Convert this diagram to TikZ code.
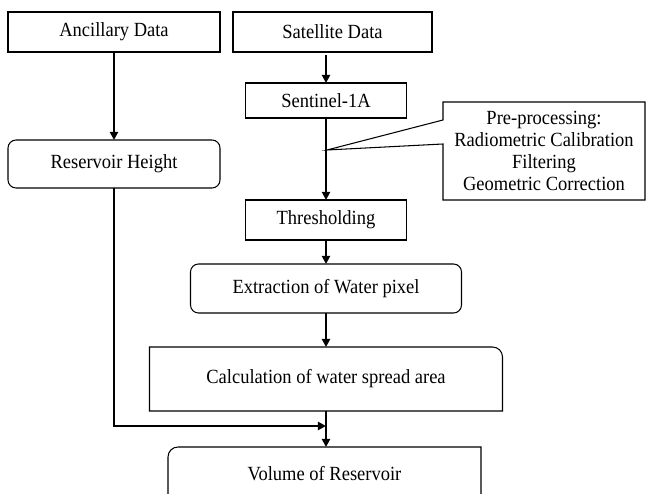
\documentclass[tikz,border=0pt]{standalone}
\usepackage{fontspec}
\setmainfont{Liberation Serif}[FakeStretch=0.92]
\usetikzlibrary{arrows.meta}

\begin{document}
\begin{tikzpicture}[x=0.25mm, y=0.25mm,
  box/.style={draw=black, line width=0.75pt, inner sep=0pt, outer sep=0pt, align=center, font=\fontsize{14.3}{15.6}\selectfont},
  rbox/.style={box, rounded corners=2mm},
  bare/.style={box, draw=none},
  edge/.style={line width=0.75pt},
  flow/.style={line width=1.4pt, -{Triangle[length=5.7pt,width=5.7pt]}}]
\useasboundingbox (0,0) rectangle (647,493);
\clip (0,0) rectangle (647,493);
\node[box, minimum width=53mm, minimum height=10mm] (anc) at (114, 461) {Ancillary Data};
\node[box, minimum width=49.75mm, minimum height=10mm] (sat) at (332.5, 461) {Satellite Data};
\node[box, minimum width=40.25mm, minimum height=8.75mm] (sen) at (326, 392.5) {Sentinel-1A};
\node[rbox, minimum width=53mm, minimum height=12mm] (res) at (114, 329) {Reservoir Height};
\node[box, minimum width=40.25mm, minimum height=10mm] (thr) at (326, 273) {Thresholding};
\node[rbox, minimum width=67.75mm, minimum height=12.25mm] (ext) at (326, 204.5) {Extraction of Water pixel};
\node[bare, minimum width=88.25mm, minimum height=16mm] (calc) at (326, 114) {Calculation of water spread area};
\node[bare, minimum width=78.25mm, minimum height=13.5mm] (vol) at (324.5, 19) {Volume of Reservoir};
\node[bare, minimum width=50.5mm, minimum height=24.5mm] (pre) at (544, 342) {Pre-processing:\\Radiometric Calibration\\Filtering\\Geometric Correction};

% box outlines with a single round corner
\draw[edge] (calc.south west) -- (calc.north west) -- ([xshift=-2.5mm]calc.north east)
  arc[start angle=90, end angle=0, radius=2.5mm] -- (calc.south east) -- cycle;
\draw[edge] (vol.south west) -- ([yshift=-2.5mm]vol.north west)
  arc[start angle=180, end angle=90, radius=2.5mm] -- (vol.north east) -- (vol.south east);

% callout
\coordinate (tip) at (327, 343);
\draw[edge] (pre.north west) -- (pre.north east) -- (pre.south east) -- (pre.south west)
  -- ([yshift=-10.5mm]pre.north west) -- (tip) -- ([yshift=-4.5mm]pre.north west) -- cycle;

% arrows
\coordinate (join) at (326, 67);
\draw[flow, shorten <=2pt] (sen.north |- sat.south) -- (sen.north);
\draw[flow] (anc) -- (res);
\draw[flow] (sen) -- (thr);
\draw[flow] (thr) -- (ext);
\draw[flow] (ext) -- (calc);
\draw[flow] (calc.south) -- (calc.south |- vol.north);
\draw[flow] (res.south) |- (join);
\end{tikzpicture}
\end{document}
